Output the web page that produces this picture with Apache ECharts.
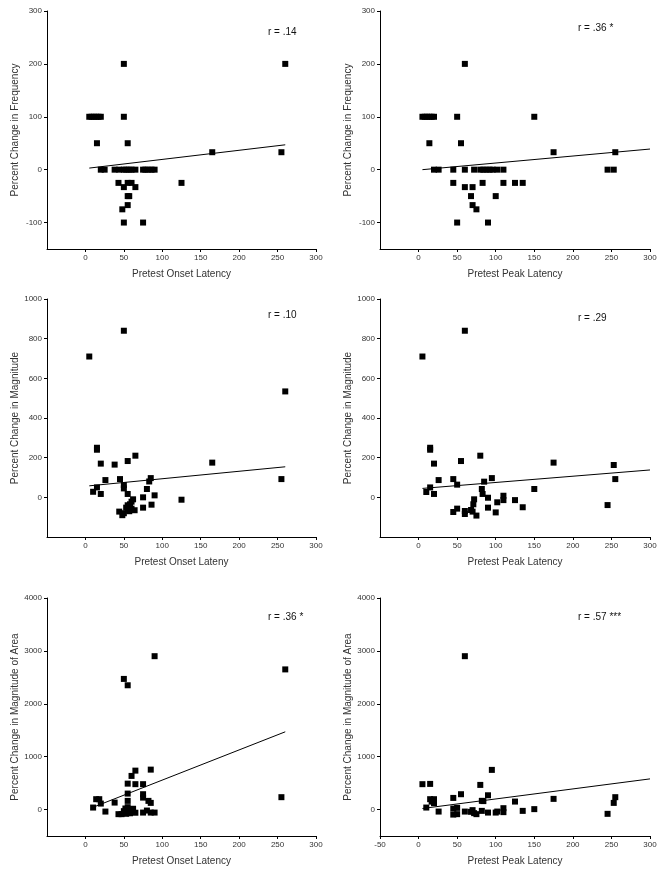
<!DOCTYPE html>
<html>
<head>
<meta charset="utf-8">
<script src="https://cdn.jsdelivr.net/npm/echarts@6/dist/echarts.min.js"></script>
<style>
  html, body { margin: 0; padding: 0; background: #fff; }
  #chart { width: 665px; height: 874px; }
</style>
</head>
<body>
<div id="chart"></div>
<script>
// scatter data: [latency, percent change]
const onsetFreq = [
  [50, 200], [260, 200],
  [5, 100], [8, 100], [11, 100], [14, 100], [17, 100], [20, 100], [50, 100],
  [15, 50], [55, 50], [165, 33], [255, 33],
  [20, 0], [25, 0], [38, 0], [44, 0], [50, 0], [53, 0], [57, 0], [60, 0], [65, 0],
  [75, 0], [78, 0], [82, 0], [86, 0], [90, 0],
  [43, -25], [55, -25], [60, -25], [125, -25],
  [50, -33], [65, -33], [55, -50], [57, -50], [55, -67], [48, -75],
  [50, -100], [75, -100]
];
const peakFreq = [
  [60, 200],
  [5, 100], [8, 100], [11, 100], [14, 100], [17, 100], [20, 100], [50, 100], [150, 100],
  [14, 50], [55, 50], [175, 33], [255, 33],
  [20, 0], [26, 0], [45, 0], [60, 0], [72, 0], [80, 0], [84, 0], [88, 0], [92, 0],
  [96, 0], [102, 0], [110, 0], [245, 0], [253, 0],
  [45, -25], [83, -25], [110, -25], [125, -25], [135, -25],
  [60, -33], [70, -33], [68, -50], [100, -50], [70, -67], [75, -75],
  [50, -100], [90, -100]
];
const onsetMag = [
  [5, 710], [50, 840], [260, 534], [15, 250], [15, 240], [20, 170], [38, 165],
  [55, 183], [65, 210], [165, 175], [255, 92], [26, 87], [45, 92], [50, 62],
  [50, 45], [85, 97], [83, 80], [80, 42], [10, 28], [15, 50], [20, 17], [55, 17],
  [90, 10], [75, 0], [125, -12], [86, -37], [75, -52], [62, -10], [60, -22],
  [58, -35], [55, -40], [53, -52], [55, -62], [60, -57], [64, -65], [44, -72],
  [48, -90], [50, -80], [57, -70]
];
const peakMag = [
  [5, 710], [60, 840], [15, 250], [15, 240], [20, 170], [55, 183], [80, 210],
  [175, 175], [253, 163], [255, 92], [26, 87], [45, 92], [95, 97], [85, 79],
  [50, 64], [15, 50], [10, 27], [20, 17], [82, 42], [83, 17], [90, -2], [150, 42],
  [110, 8], [110, -14], [102, -25], [125, -14], [135, -50], [72, -10], [71, -35],
  [90, -52], [245, -39], [50, -57], [45, -74], [60, -69], [60, -84], [68, -64],
  [70, -72], [75, -92], [100, -76]
];
const onsetArea = [
  [50, 2470], [55, 2350], [90, 2900], [260, 2650], [255, 234], [65, 736],
  [85, 755], [60, 636], [55, 490], [65, 480], [75, 480], [55, 302], [75, 290],
  [75, 226], [14, 196], [18, 196], [20, 113], [38, 132], [55, 164], [82, 164],
  [85, 126], [10, 38], [26, -38], [43, -87], [47, -87], [75, -57], [80, -19],
  [85, -57], [90, -57], [50, -30], [52, 20], [55, 45], [55, -60], [57, 0],
  [60, -40], [62, 15], [65, -60], [53, -80], [58, -70]
];
const peakArea = [
  [60, 2900], [95, 750], [5, 480], [15, 485], [80, 466], [55, 290], [90, 270],
  [45, 220], [15, 196], [20, 196], [20, 121], [17, 150], [82, 165], [84, 160],
  [125, 151], [175, 202], [255, 234], [253, 126], [10, 38], [26, -38], [45, 19],
  [45, -95], [50, 32], [50, -87], [60, -38], [68, -43], [70, -11], [72, -68],
  [75, -87], [82, -25], [90, -57], [100, -57], [102, -38], [110, 26], [110, -49],
  [135, -25], [150, 8], [245, -81]
];

// fitted regression lines, end points
const fitOnsetFreq = [[5, 3], [260, 47]];
const fitPeakFreq = [[5, 0], [300, 39]];
const fitOnsetMag = [[5, 58], [260, 154]];
const fitPeakMag = [[5, 45], [300, 138]];
const fitOnsetArea = [[9, 38], [260, 1470]];
const fitPeakArea = [[5, 20], [300, 580]];

const rLabels = ['r = .14', 'r = .36 *', 'r = .10', 'r = .29', 'r = .36 *', 'r = .57 ***'];
const xNames = [
  'Pretest Onset Latency', 'Pretest Peak Latency',
  'Pretest Onset Lateny', 'Pretest Peak Latency',
  'Pretest Onset Latency', 'Pretest Peak Latency'
];
const yNames = [
  'Percent Change in Frequency', 'Percent Change in Frequency',
  'Percent Change in Magnitude', 'Percent Change in Magnitude',
  'Percent Change in Magnitude of Area', 'Percent Change in Magnitude of Area'
];
const xTicks = [0, 50, 100, 150, 200, 250, 300];
const xTicksNeg = [-50, 0, 50, 100, 150, 200, 250, 300];
const yTicksFreq = [-100, 0, 100, 200, 300];
const yTicksMag = [0, 200, 400, 600, 800, 1000];
const yTicksArea = [0, 1000, 2000, 3000, 4000];

const font = 'Liberation Sans, Arial, sans-serif';
const textColor = '#333';

const panels = [
  { pts: onsetFreq, fit: fitOnsetFreq, xt: xTicks, yt: yTicksFreq, ymin: -150, ymax: 300 },
  { pts: peakFreq, fit: fitPeakFreq, xt: xTicks, yt: yTicksFreq, ymin: -150, ymax: 300 },
  { pts: onsetMag, fit: fitOnsetMag, xt: xTicks, yt: yTicksMag, ymin: -200, ymax: 1000 },
  { pts: peakMag, fit: fitPeakMag, xt: xTicks, yt: yTicksMag, ymin: -200, ymax: 1000 },
  { pts: onsetArea, fit: fitOnsetArea, xt: xTicks, yt: yTicksArea, ymin: -500, ymax: 4000 },
  { pts: peakArea, fit: fitPeakArea, xt: xTicksNeg, yt: yTicksArea, ymin: -500, ymax: 4000 }
];

// layout of the 3 x 2 panels
const colLeft = [47, 380];
const colWidth = [269, 270];
const rowTop = [11, 299, 598];
const plotHeight = 238;
const rLabelPos = [[268, 32], [578, 28], [268, 315], [578, 318], [268, 617], [578, 617]];

const plain = function (v) { return String(v); };
const grids = [], xAxes = [], yAxes = [], series = [], texts = [];

panels.forEach(function (p, i) {
  const col = i % 2, row = Math.floor(i / 2);
  grids.push({ left: colLeft[col], top: rowTop[row], width: colWidth[col], height: plotHeight });
  xAxes.push({
    gridIndex: i, type: 'value', min: -50, max: 300,
    name: xNames[i], nameLocation: 'middle', nameGap: 20,
    nameTextStyle: { fontFamily: font, fontSize: 10, color: textColor },
    axisLine: { onZero: false, lineStyle: { color: '#000', width: 1 } },
    axisTick: { length: 3, customValues: p.xt, lineStyle: { color: '#000' } },
    axisLabel: { customValues: p.xt, formatter: plain, fontFamily: font, fontSize: 8, color: textColor, margin: 5 },
    splitLine: { show: false }
  });
  yAxes.push({
    gridIndex: i, type: 'value', min: p.ymin, max: p.ymax,
    name: yNames[i], nameLocation: 'middle', nameGap: 27,
    nameTextStyle: { fontFamily: font, fontSize: 10, color: textColor },
    axisLine: { onZero: false, lineStyle: { color: '#000', width: 1 } },
    axisTick: { length: 3, customValues: p.yt, lineStyle: { color: '#000' } },
    axisLabel: { customValues: p.yt, formatter: plain, fontFamily: font, fontSize: 8, color: textColor, margin: 5 },
    splitLine: { show: false }
  });
  series.push({
    type: 'scatter', xAxisIndex: i, yAxisIndex: i, data: p.pts,
    symbol: 'rect', symbolSize: 6, itemStyle: { color: '#000', opacity: 1 }, silent: true
  });
  series.push({
    type: 'line', xAxisIndex: i, yAxisIndex: i, data: p.fit,
    symbol: 'none', lineStyle: { color: '#000', width: 1 }, silent: true
  });
  texts.push({
    type: 'text', x: rLabelPos[i][0], y: rLabelPos[i][1],
    style: { text: rLabels[i], fontFamily: font, fontSize: 10, fill: '#111', verticalAlign: 'middle' }
  });
});

const chart = echarts.init(document.getElementById('chart'));
chart.setOption({
  animation: false,
  backgroundColor: '#fff',
  grid: grids,
  xAxis: xAxes,
  yAxis: yAxes,
  series: series,
  graphic: texts
});
</script>
</body>
</html>
